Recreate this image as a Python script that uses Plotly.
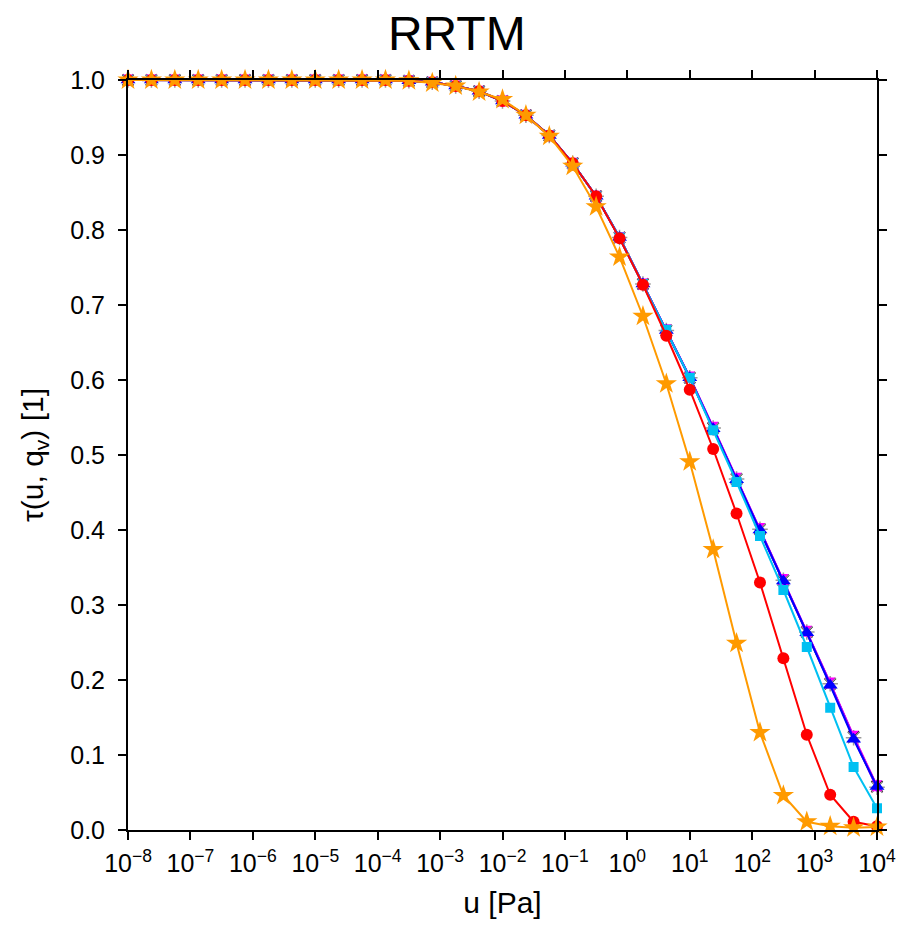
import plotly.graph_objects as go

# x positions as log10(u [Pa])
log_u = [-8.0, -7.625, -7.25, -6.875, -6.5, -6.125, -5.75, -5.375, -5.0, -4.625,
         -4.25, -3.875, -3.5, -3.125, -2.75, -2.375, -2.0, -1.625, -1.25, -0.875,
         -0.5, -0.125, 0.25, 0.625, 1.0, 1.375, 1.75, 2.125, 2.5, 2.875,
         3.25, 3.625, 4.0]
u_vals = [10 ** e for e in log_u]

tau_black = [1.000, 1.000, 1.000, 1.000, 1.000, 1.000, 1.000, 1.000, 1.000, 1.000,
             1.000, 1.000, 0.999, 0.997, 0.992, 0.985, 0.972, 0.953, 0.926, 0.889,
             0.845, 0.790, 0.728, 0.666, 0.603, 0.536, 0.468, 0.401, 0.333, 0.264,
             0.195, 0.124, 0.058]
tau_gray = [1.000, 1.000, 1.000, 1.000, 1.000, 1.000, 1.000, 1.000, 1.000, 1.000,
            1.000, 1.000, 0.999, 0.997, 0.992, 0.985, 0.972, 0.953, 0.926, 0.889,
            0.845, 0.790, 0.728, 0.666, 0.603, 0.536, 0.468, 0.401, 0.333, 0.264,
            0.195, 0.123, 0.057]
tau_magenta = [1.000, 1.000, 1.000, 1.000, 1.000, 1.000, 1.000, 1.000, 1.000, 1.000,
               1.000, 1.000, 0.999, 0.997, 0.992, 0.985, 0.972, 0.953, 0.926, 0.889,
               0.845, 0.790, 0.728, 0.667, 0.604, 0.537, 0.469, 0.402, 0.334, 0.265,
               0.196, 0.125, 0.059]
tau_purple = [1.000, 1.000, 1.000, 1.000, 1.000, 1.000, 1.000, 1.000, 1.000, 1.000,
              1.000, 1.000, 0.999, 0.997, 0.992, 0.985, 0.972, 0.953, 0.926, 0.889,
              0.845, 0.790, 0.728, 0.666, 0.603, 0.536, 0.468, 0.401, 0.333, 0.264,
              0.195, 0.123, 0.056]
tau_blue = [1.000, 1.000, 1.000, 1.000, 1.000, 1.000, 1.000, 1.000, 1.000, 1.000,
            1.000, 1.000, 0.999, 0.997, 0.992, 0.985, 0.972, 0.953, 0.926, 0.889,
            0.845, 0.790, 0.728, 0.666, 0.603, 0.535, 0.467, 0.400, 0.332, 0.263,
            0.193, 0.121, 0.058]
tau_cyan = [1.000, 1.000, 1.000, 1.000, 1.000, 1.000, 1.000, 1.000, 1.000, 1.000,
            1.000, 1.000, 0.999, 0.997, 0.992, 0.985, 0.972, 0.953, 0.926, 0.889,
            0.845, 0.790, 0.728, 0.667, 0.603, 0.533, 0.464, 0.392, 0.320, 0.244,
            0.163, 0.084, 0.029]
tau_red = [1.000, 1.000, 1.000, 1.000, 1.000, 1.000, 1.000, 1.000, 1.000, 1.000,
           1.000, 1.000, 0.999, 0.997, 0.992, 0.985, 0.972, 0.953, 0.926, 0.889,
           0.845, 0.789, 0.727, 0.659, 0.587, 0.508, 0.422, 0.330, 0.229, 0.127,
           0.047, 0.011, 0.005]
tau_orange = [1.000, 1.000, 1.000, 1.000, 1.000, 1.000, 1.000, 1.000, 1.000, 1.000,
              1.000, 1.000, 0.999, 0.996, 0.992, 0.984, 0.974, 0.953, 0.925, 0.885,
              0.831, 0.764, 0.685, 0.595, 0.491, 0.374, 0.249, 0.130, 0.046, 0.011,
              0.005, 0.003, 0.004]

x_tick_exps = [-8, -7, -6, -5, -4, -3, -2, -1, 0, 1, 2, 3, 4]
x_tick_text = ["10<sup>\u2212%d</sup>" % (-e) if e < 0 else "10<sup>%d</sup>" % e
               for e in x_tick_exps]
y_ticks = [0.0, 0.1, 0.2, 0.3, 0.4, 0.5, 0.6, 0.7, 0.8, 0.9, 1.0]

series = [
    (tau_black, "#000000", "x-thin-open", 11, 2),
    (tau_gray, "#9a9a9a", "asterisk-open", 13, 1.5),
    (tau_magenta, "#ff00ff", "hourglass", 11, 0),
    (tau_purple, "#8a00ff", "diamond", 6, 0),
    (tau_blue, "#0000ff", "triangle-up", 13, 0),
    (tau_cyan, "#00c0f2", "square", 10, 0),
    (tau_red, "#ff0000", "circle", 12, 0),
    (tau_orange, "#ff9a00", "star", 16, 0),
]

FONT = "Liberation Sans, Arial, Helvetica, sans-serif"

fig = go.Figure()
for vals, col, sym, size, lw in series:
    fig.add_trace(go.Scatter(
        x=u_vals, y=vals, mode="lines+markers",
        line=dict(color=col, width=2),
        marker=dict(symbol=sym, size=size, color=col,
                    line=dict(color=col, width=lw)),
        cliponaxis=False, showlegend=False,
    ))

axis_common = dict(
    showline=True, linecolor="black", linewidth=2, mirror="ticks",
    ticks="outside", ticklen=8, tickwidth=1.5, tickcolor="black",
    showgrid=False, zeroline=False,
    tickfont=dict(family=FONT, size=25, color="black"),
)

fig.update_layout(
    width=914, height=925,
    margin=dict(l=120, r=45, t=72, b=103),
    paper_bgcolor="white", plot_bgcolor="white",
    title=dict(text="RRTM", x=0.491, xref="container", xanchor="center",
               y=0.973, yref="container", yanchor="middle",
               font=dict(family=FONT, size=48, color="black")),
    xaxis=dict(type="log", range=[-8, 4], tickmode="array",
               tickvals=[10 ** e for e in x_tick_exps], ticktext=x_tick_text,
               ticklabelstandoff=2,
               title=dict(text="u [Pa]", standoff=16,
                          font=dict(family=FONT, size=30, color="black")),
               **axis_common),
    yaxis=dict(range=[0, 1], tickmode="array", tickvals=y_ticks,
               ticktext=["%.1f" % v for v in y_ticks],
               ticklabelstandoff=8,
               title=dict(text="\u03c4(u, q<sub>v</sub>) [1]", standoff=18,
                          font=dict(family=FONT, size=30, color="black")),
               **axis_common),
)

fig.write_html("out.html")
